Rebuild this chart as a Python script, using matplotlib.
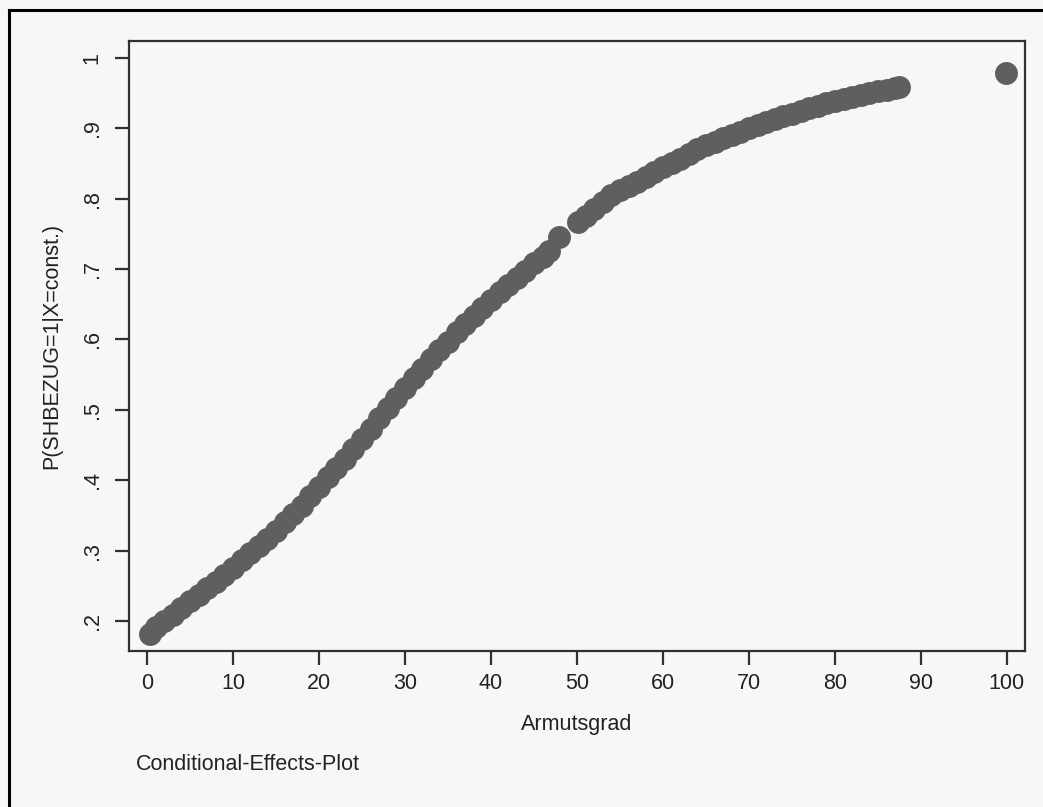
import numpy as np
import matplotlib
matplotlib.use("Agg")
import matplotlib.pyplot as plt
from matplotlib.lines import Line2D

plt.rcParams['font.family'] = ['Liberation Sans', 'DejaVu Sans']

# values
armut = [0.3, 1, 2, 3, 4, 5, 6, 7, 8, 9, 10, 11, 12, 13, 14, 15, 16, 17, 18, 19,
         20, 21, 22, 23, 24, 25, 26, 27, 28, 29, 30, 31, 32, 33, 34, 35, 36, 37, 38, 39,
         40, 41, 42, 43, 44, 45, 46, 46.8, 47.9, 50.1, 51, 52, 53, 54, 55, 56, 57, 58, 59,
         60, 61, 62, 63, 64, 65, 66, 67, 68, 69, 70, 71, 72, 73, 74, 75, 76, 77, 78, 79,
         80, 81, 82, 83, 84, 85, 86, 87, 87.4, 99.9]
prob = [0.182, 0.192, 0.200, 0.209, 0.218, 0.228, 0.237, 0.247, 0.256, 0.266,
        0.276, 0.286, 0.296, 0.306, 0.317, 0.328, 0.340, 0.352, 0.364, 0.377,
        0.390, 0.404, 0.417, 0.430, 0.444, 0.458, 0.473, 0.488, 0.503, 0.517,
        0.531, 0.545, 0.558, 0.572, 0.585, 0.597, 0.610, 0.622, 0.634, 0.645,
        0.656, 0.667, 0.677, 0.688, 0.698, 0.708, 0.717, 0.726, 0.745, 0.767,
        0.775, 0.785, 0.796, 0.805, 0.812, 0.818, 0.824, 0.831, 0.838,
        0.845, 0.851, 0.857, 0.864, 0.870, 0.876, 0.881, 0.886, 0.891, 0.895,
        0.900, 0.905, 0.909, 0.913, 0.917, 0.921, 0.925, 0.929, 0.932, 0.936,
        0.939, 0.942, 0.945, 0.948, 0.950, 0.953, 0.955, 0.957, 0.959, 0.979]

xticks = [0, 10, 20, 30, 40, 50, 60, 70, 80, 90, 100]
yticks = [0.2, 0.3, 0.4, 0.5, 0.6, 0.7, 0.8, 0.9, 1.0]
ylabels = [".2", ".3", ".4", ".5", ".6", ".7", ".8", ".9", "1"]

bg = "#f7f7f7"
fig = plt.figure(figsize=(10.43, 8.07), dpi=100, facecolor=bg)
ax = fig.add_axes([0.1237, 0.1933, 0.859, 0.7559], facecolor=bg)

ax.plot(armut, prob, linestyle="none", marker="o", markersize=16.5,
        markerfacecolor="#5f5f5f", markeredgewidth=0)

ax.set_xlim(-2.09, 102.1)
ax.set_ylim(0.1574, 1.0241)
ax.set_xticks(xticks)
ax.set_xticklabels([str(t) for t in xticks])
ax.set_yticks(yticks)
ax.set_yticklabels(ylabels, rotation=90, va="center")

for s in ax.spines.values():
    s.set_linewidth(1.6)
    s.set_color("#303030")
ax.tick_params(direction="out", length=10, width=1.6, color="#303030",
               labelsize=15.5, labelcolor="#222222", pad=6)
ax.tick_params(axis="y", pad=9)

ax.set_xlabel("Armutsgrad", fontsize=15.5, color="#222222", labelpad=14)
ax.set_ylabel("P(SHBEZUG=1|X=const.)", fontsize=15.5, color="#222222", labelpad=14)

fig.text(136 / 1043, 1 - 765 / 807, "Conditional-Effects-Plot", fontsize=15.5,
         color="#222222", ha="left", va="center")

# outer frame (only left and top edges visible)
fig.add_artist(Line2D([9 / 1043, 9 / 1043], [0, 1 - 10 / 807],
                      transform=fig.transFigure, color="black", linewidth=2.2))
fig.add_artist(Line2D([9 / 1043, 1], [1 - 10 / 807, 1 - 10 / 807],
                      transform=fig.transFigure, color="black", linewidth=2.2))

fig.savefig("out.png", dpi=100, facecolor=bg)
